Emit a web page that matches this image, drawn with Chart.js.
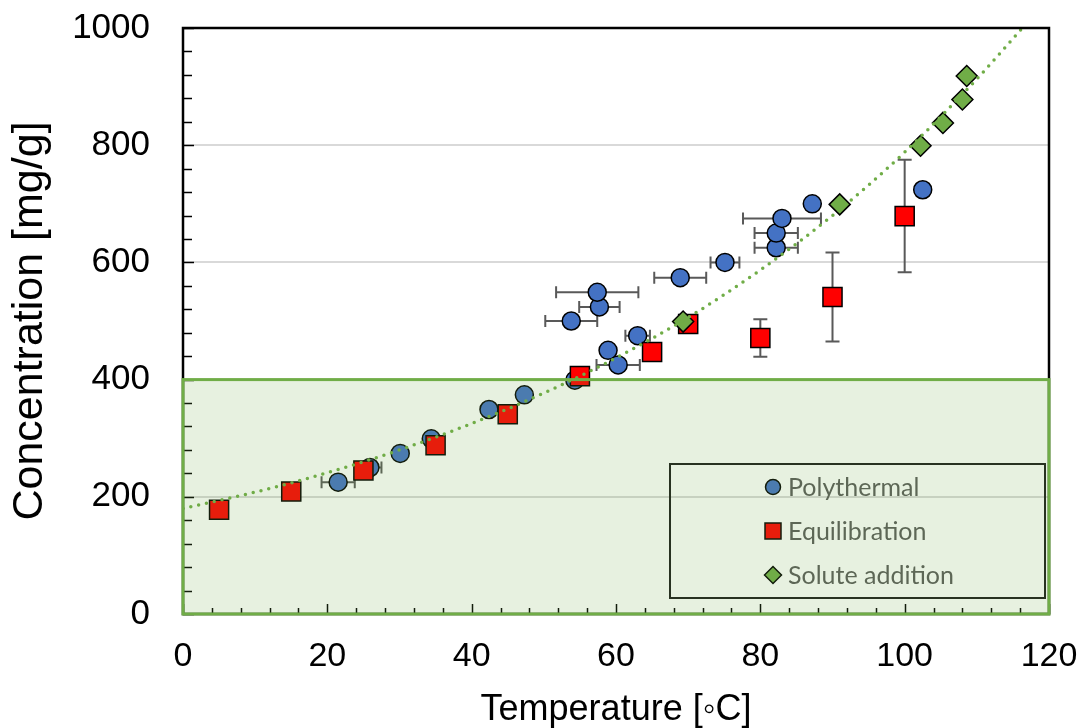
<!DOCTYPE html>
<html>
<head>
<meta charset="utf-8">
<script src="https://cdn.jsdelivr.net/npm/chart.js@4"></script>
<style>
  html, body { margin: 0; padding: 0; background: #fff; }
  canvas { display: block; }
</style>
</head>
<body>
<canvas id="solChart" width="1086" height="728"></canvas>
<script>
// polythermal runs (temperature, concentration, ± temperature)
const polyT    = [21.5, 25.9, 30.1, 34.4, 42.4, 47.3, 54.3, 58.9, 60.3, 63.0, 53.8, 57.7, 57.4, 68.9, 75.1, 82.2, 82.2, 83.0, 87.2, 102.5];
const polyC    = [225, 250, 274, 299, 349, 374, 399, 450, 425, 475, 500, 524, 549, 574, 600, 625, 650, 675, 700, 724];
const polyTErr = [2.3, 1.6, 0, 0, 0, 0, 0, 0, 3.0, 1.7, 3.6, 2.8, 5.7, 3.6, 2.0, 3.0, 3.0, 5.4, 0, 0];

// equilibration runs (± concentration)
const eqT    = [5, 15, 25, 35, 45, 55, 65, 70, 80, 90, 100];
const eqC    = [178, 209, 245, 288, 341, 406, 447, 495, 471, 541, 679];
const eqCErr = [0, 0, 0, 0, 0, 0, 0, 0, 32, 76, 96];

// solute addition
const solT = [69.3, 91.0, 102.2, 105.3, 108.0, 108.6];
const solC = [499, 699, 799, 838, 878, 918];

// dotted trend curve
const trendT = [0, 10, 20, 30, 40, 50, 60, 70, 80, 90, 100, 110, 116.3];
const trendC = [180, 208, 241, 280, 325, 377, 437, 506, 587, 680, 788, 913, 1000];

const legendLabels = ["Polythermal", "Equilibration", "Solute addition"];

const toPts = (xs, ys) => xs.map((v, i) => ({ x: v, y: ys[i] }));
const FONT = "'Liberation Sans', Arial, sans-serif";

const extras = {
    id: "extras",
    beforeDatasetsDraw(chart) {
        const { ctx, scales: { x, y } } = chart;
        ctx.save();
        ctx.strokeStyle = "#595959";
        ctx.lineWidth = 2;
        ctx.beginPath();
        polyT.forEach((t, i) => {
            const e = polyTErr[i];
            if (!e) return;
            const py = y.getPixelForValue(polyC[i]);
            const x1 = x.getPixelForValue(t - e);
            const x2 = x.getPixelForValue(t + e);
            ctx.moveTo(x1, py); ctx.lineTo(x2, py);
            ctx.moveTo(x1, py - 6); ctx.lineTo(x1, py + 6);
            ctx.moveTo(x2, py - 6); ctx.lineTo(x2, py + 6);
        });
        eqT.forEach((t, i) => {
            const e = eqCErr[i];
            if (!e) return;
            const px = x.getPixelForValue(t);
            const y1 = y.getPixelForValue(eqC[i] - e);
            const y2 = y.getPixelForValue(eqC[i] + e);
            ctx.moveTo(px, y1); ctx.lineTo(px, y2);
            ctx.moveTo(px - 7, y1); ctx.lineTo(px + 7, y1);
            ctx.moveTo(px - 7, y2); ctx.lineTo(px + 7, y2);
        });
        ctx.stroke();
        ctx.restore();
    },
    afterDatasetsDraw(chart) {
        const { ctx, chartArea: a, scales: { x, y } } = chart;
        ctx.save();

        // inward tick marks
        ctx.strokeStyle = "#000";
        ctx.lineWidth = 1.5;
        ctx.beginPath();
        for (let v = 0; v <= 1000; v += 40) {
            const py = Math.round(y.getPixelForValue(v)) + 0.5;
            const len = v % 200 === 0 ? 11 : 9;
            ctx.moveTo(a.left, py); ctx.lineTo(a.left + len, py);
        }
        for (let v = 0; v <= 120; v += 4) {
            const px = Math.round(x.getPixelForValue(v)) + 0.5;
            const len = v % 20 === 0 ? 10 : 6;
            ctx.moveTo(px, a.bottom); ctx.lineTo(px, a.bottom - len);
        }
        ctx.stroke();

        // plot frame
        ctx.lineWidth = 2.5;
        ctx.strokeStyle = "#000";
        ctx.strokeRect(a.left, a.top, a.right - a.left, a.bottom - a.top);

        // legend box
        const lx = 670, ly = 464, lw = 375, lh = 134;
        ctx.lineWidth = 2;
        ctx.strokeStyle = "#1a1a1a";
        ctx.strokeRect(lx, ly, lw, lh);
        const mx = 773;
        const rows = [487, 531, 575];
        ctx.lineWidth = 1.5;
        ctx.strokeStyle = "#000";
        // circle
        ctx.fillStyle = "#4472c4";
        ctx.beginPath(); ctx.arc(mx, rows[0], 7.5, 0, Math.PI * 2); ctx.fill(); ctx.stroke();
        // square
        ctx.fillStyle = "#ff0000";
        ctx.beginPath(); ctx.rect(mx - 8, rows[1] - 8, 16, 16); ctx.fill(); ctx.stroke();
        // diamond
        ctx.fillStyle = "#70ad47";
        ctx.beginPath();
        ctx.moveTo(mx - 8.5, rows[2]); ctx.lineTo(mx, rows[2] - 8.5);
        ctx.lineTo(mx + 8.5, rows[2]); ctx.lineTo(mx, rows[2] + 8.5);
        ctx.closePath(); ctx.fill(); ctx.stroke();
        ctx.fillStyle = "#595959";
        ctx.font = "25px Lato, 'Open Sans', sans-serif";
        ctx.textBaseline = "middle";
        ctx.textAlign = "left";
        legendLabels.forEach((t, i) => ctx.fillText(t, 788, rows[i] + 1));

        // shaded region 0..400 over the whole temperature range
        const rx = x.getPixelForValue(0), rr = x.getPixelForValue(120);
        const rt = y.getPixelForValue(400), rb = y.getPixelForValue(0);
        ctx.fillStyle = "rgba(112,173,71,0.17)";
        ctx.fillRect(rx, rt, rr - rx, rb - rt);
        ctx.lineWidth = 3;
        ctx.strokeStyle = "#70ad47";
        ctx.strokeRect(rx, rt, rr - rx, rb - rt);
        ctx.restore();
    }
};

new Chart(document.getElementById("solChart"), {
    type: "scatter",
    data: {
        datasets: [
            {
                label: "trend",
                data: toPts(trendT, trendC),
                showLine: true,
                pointRadius: 0,
                borderColor: "#70ad47",
                borderWidth: 3.5,
                borderDash: [0, 8],
                borderCapStyle: "round",
                cubicInterpolationMode: "monotone",
            },
            {
                label: legendLabels[2],
                data: toPts(solT, solC),
                pointStyle: "rectRot",
                pointRadius: 10.5,
                pointBackgroundColor: "#70ad47",
                pointBorderColor: "#000",
                pointBorderWidth: 1.5,
            },
            {
                label: legendLabels[1],
                data: toPts(eqT, eqC),
                pointStyle: "rect",
                pointRadius: 13.5,
                pointBackgroundColor: "#ff0000",
                pointBorderColor: "#000",
                pointBorderWidth: 1.5,
            },
            {
                label: legendLabels[0],
                data: toPts(polyT, polyC),
                pointStyle: "circle",
                pointRadius: 9,
                pointBackgroundColor: "#4472c4",
                pointBorderColor: "#000",
                pointBorderWidth: 1.5,
            },
        ],
    },
    options: {
        responsive: false,
        animation: false,
        devicePixelRatio: 1,
        layout: { padding: { top: 28, right: 37, left: 0, bottom: 0 } },
        plugins: {
            legend: { display: false },
            tooltip: { enabled: false },
        },
        scales: {
            x: {
                type: "linear",
                min: 0,
                max: 120,
                ticks: { stepSize: 20, padding: 22, color: "#000", font: { family: FONT, size: 34 } },
                grid: { display: false, drawTicks: false },
                border: { display: false },
                title: {
                    display: true,
                    text: "Temperature [◦C]",
                    color: "#000",
                    font: { family: FONT, size: 36, lineHeight: 1.0 },
                    padding: { top: 0, bottom: 0 },
                },
                afterFit(s) {
                    s.height = 114;
                    s.paddingLeft = 0;
                    s.paddingRight = 0;
                },
            },
            y: {
                min: 0,
                max: 1000,
                ticks: {
                    stepSize: 200,
                    padding: 33,
                    color: "#000",
                    font: { family: FONT, size: 35 },
                    callback: (v) => String(v),
                },
                grid: { color: "#d9d9d9", lineWidth: 2, drawTicks: false },
                border: { display: false },
                title: {
                    display: true,
                    text: "Concentration [mg/g]",
                    color: "#000",
                    font: { family: FONT, size: 43 },
                    padding: { top: 4, bottom: 0 },
                },
                afterFit(s) {
                    s.width = 183;
                    s.paddingTop = 0;
                    s.paddingBottom = 0;
                },
            },
        },
    },
    plugins: [extras],
});
</script>
</body>
</html>
